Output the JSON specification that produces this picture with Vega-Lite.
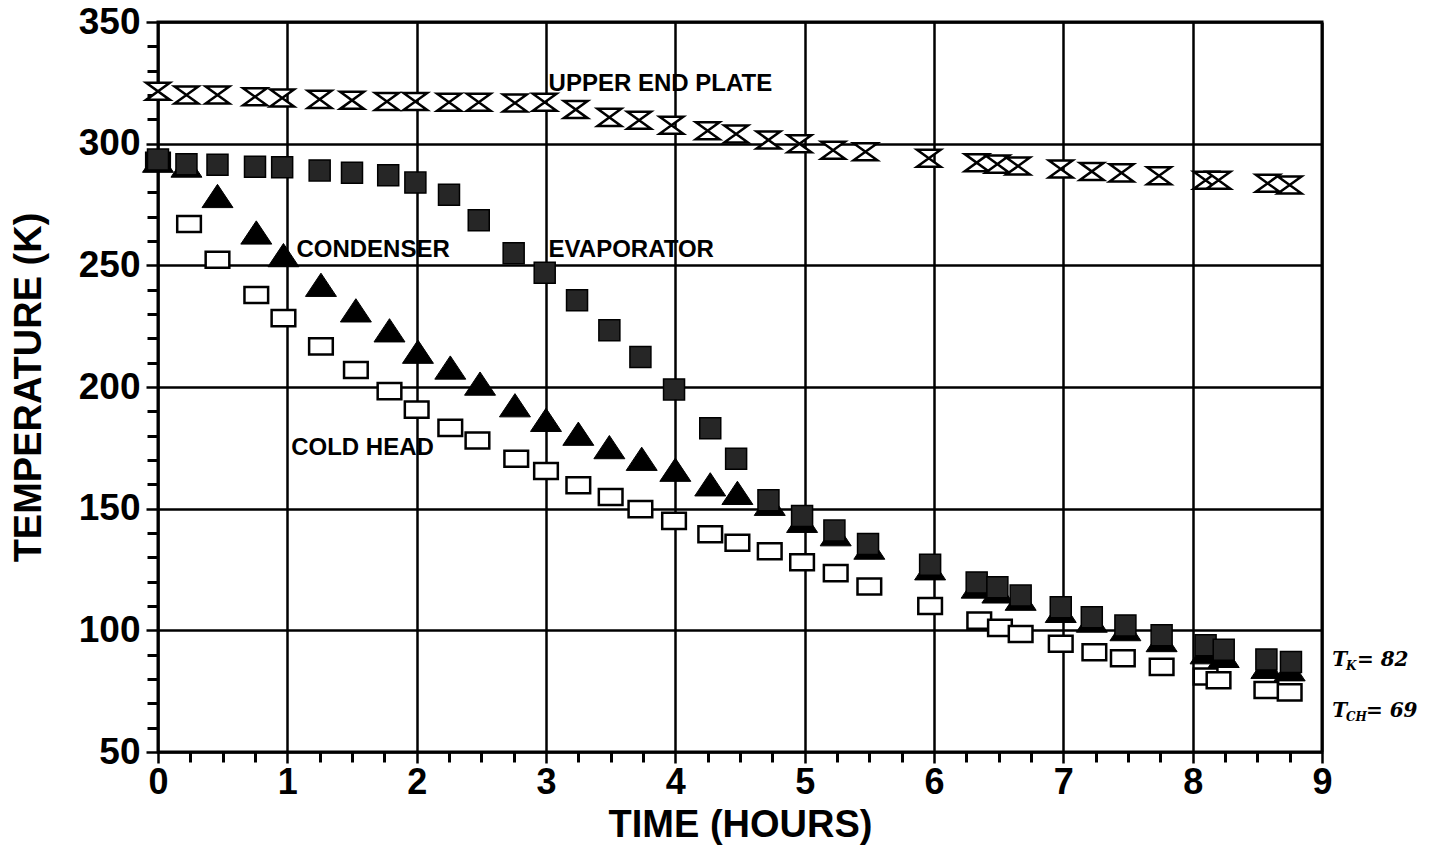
{
  "$schema": "https://vega.github.io/schema/vega-lite/v6.json",
  "width": 1164,
  "height": 730,
  "autosize": {"type": "none"},
  "padding": {"left": 158, "top": 22, "right": 109, "bottom": 98},
  "background": "white",
  "config": {
    "view": {"stroke": "black", "strokeWidth": 3},
    "font": "Liberation Sans"
  },
  "resolve": {"axis": {"x": "independent", "y": "independent"}},
  "datasets": {
    "pts": [
      {"series": "Upper end plate", "t": 0, "T": 321.5},
      {"series": "Upper end plate", "t": 0.22, "T": 320},
      {"series": "Upper end plate", "t": 0.46, "T": 320},
      {"series": "Upper end plate", "t": 0.75, "T": 319.3},
      {"series": "Upper end plate", "t": 0.96, "T": 318.8},
      {"series": "Upper end plate", "t": 1.25, "T": 318.2},
      {"series": "Upper end plate", "t": 1.5, "T": 317.8},
      {"series": "Upper end plate", "t": 1.77, "T": 317.3},
      {"series": "Upper end plate", "t": 1.99, "T": 317.3},
      {"series": "Upper end plate", "t": 2.25, "T": 317},
      {"series": "Upper end plate", "t": 2.48, "T": 317},
      {"series": "Upper end plate", "t": 2.76, "T": 316.7},
      {"series": "Upper end plate", "t": 2.99, "T": 317},
      {"series": "Upper end plate", "t": 3.23, "T": 314},
      {"series": "Upper end plate", "t": 3.49, "T": 310.8},
      {"series": "Upper end plate", "t": 3.72, "T": 309.6},
      {"series": "Upper end plate", "t": 3.97, "T": 307.6},
      {"series": "Upper end plate", "t": 4.25, "T": 305.3},
      {"series": "Upper end plate", "t": 4.47, "T": 304},
      {"series": "Upper end plate", "t": 4.72, "T": 301.5},
      {"series": "Upper end plate", "t": 4.96, "T": 300},
      {"series": "Upper end plate", "t": 5.22, "T": 297.3},
      {"series": "Upper end plate", "t": 5.47, "T": 296.7},
      {"series": "Upper end plate", "t": 5.96, "T": 294},
      {"series": "Upper end plate", "t": 6.33, "T": 292.2},
      {"series": "Upper end plate", "t": 6.49, "T": 291.6},
      {"series": "Upper end plate", "t": 6.65, "T": 290.8},
      {"series": "Upper end plate", "t": 6.98, "T": 289.6},
      {"series": "Upper end plate", "t": 7.22, "T": 288.6},
      {"series": "Upper end plate", "t": 7.45, "T": 288},
      {"series": "Upper end plate", "t": 7.74, "T": 286.8},
      {"series": "Upper end plate", "t": 8.1, "T": 285},
      {"series": "Upper end plate", "t": 8.2, "T": 285},
      {"series": "Upper end plate", "t": 8.58, "T": 283.7},
      {"series": "Upper end plate", "t": 8.75, "T": 283},

      {"series": "Cold head", "t": 0, "T": 293},
      {"series": "Cold head", "t": 0.24, "T": 267},
      {"series": "Cold head", "t": 0.46, "T": 252.3},
      {"series": "Cold head", "t": 0.76, "T": 237.8},
      {"series": "Cold head", "t": 0.97, "T": 228.3},
      {"series": "Cold head", "t": 1.26, "T": 216.7},
      {"series": "Cold head", "t": 1.53, "T": 207},
      {"series": "Cold head", "t": 1.79, "T": 198.3},
      {"series": "Cold head", "t": 2.0, "T": 190.7},
      {"series": "Cold head", "t": 2.26, "T": 183.2},
      {"series": "Cold head", "t": 2.47, "T": 178},
      {"series": "Cold head", "t": 2.77, "T": 170.5},
      {"series": "Cold head", "t": 3.0, "T": 165.5},
      {"series": "Cold head", "t": 3.25, "T": 159.6},
      {"series": "Cold head", "t": 3.5, "T": 154.8},
      {"series": "Cold head", "t": 3.73, "T": 149.8},
      {"series": "Cold head", "t": 3.99, "T": 145},
      {"series": "Cold head", "t": 4.27, "T": 139.5},
      {"series": "Cold head", "t": 4.48, "T": 136},
      {"series": "Cold head", "t": 4.73, "T": 132.5},
      {"series": "Cold head", "t": 4.98, "T": 128},
      {"series": "Cold head", "t": 5.24, "T": 123.5},
      {"series": "Cold head", "t": 5.5, "T": 118},
      {"series": "Cold head", "t": 5.97, "T": 110},
      {"series": "Cold head", "t": 6.35, "T": 104},
      {"series": "Cold head", "t": 6.51, "T": 101},
      {"series": "Cold head", "t": 6.67, "T": 98.5},
      {"series": "Cold head", "t": 6.98, "T": 94.5},
      {"series": "Cold head", "t": 7.24, "T": 91},
      {"series": "Cold head", "t": 7.46, "T": 88.5},
      {"series": "Cold head", "t": 7.76, "T": 85},
      {"series": "Cold head", "t": 8.1, "T": 81},
      {"series": "Cold head", "t": 8.2, "T": 79.5},
      {"series": "Cold head", "t": 8.57, "T": 75.5},
      {"series": "Cold head", "t": 8.75, "T": 74.5},

      {"series": "Condenser", "t": 0, "T": 293},
      {"series": "Condenser", "t": 0.22, "T": 291},
      {"series": "Condenser", "t": 0.46, "T": 278.5},
      {"series": "Condenser", "t": 0.76, "T": 263.5},
      {"series": "Condenser", "t": 0.97, "T": 254.2},
      {"series": "Condenser", "t": 1.26, "T": 242},
      {"series": "Condenser", "t": 1.53, "T": 231.5},
      {"series": "Condenser", "t": 1.79, "T": 223.3},
      {"series": "Condenser", "t": 2.01, "T": 214.5},
      {"series": "Condenser", "t": 2.26, "T": 208},
      {"series": "Condenser", "t": 2.49, "T": 201.4},
      {"series": "Condenser", "t": 2.76, "T": 192.5},
      {"series": "Condenser", "t": 3.0, "T": 186.5},
      {"series": "Condenser", "t": 3.25, "T": 180.8},
      {"series": "Condenser", "t": 3.49, "T": 175.3},
      {"series": "Condenser", "t": 3.74, "T": 170.5},
      {"series": "Condenser", "t": 4.0, "T": 166},
      {"series": "Condenser", "t": 4.27, "T": 160},
      {"series": "Condenser", "t": 4.48, "T": 156.5},
      {"series": "Condenser", "t": 4.73, "T": 152},
      {"series": "Condenser", "t": 4.98, "T": 145},
      {"series": "Condenser", "t": 5.24, "T": 139.5},
      {"series": "Condenser", "t": 5.5, "T": 134},
      {"series": "Condenser", "t": 5.97, "T": 125.5},
      {"series": "Condenser", "t": 6.33, "T": 118},
      {"series": "Condenser", "t": 6.49, "T": 116},
      {"series": "Condenser", "t": 6.67, "T": 113},
      {"series": "Condenser", "t": 6.98, "T": 108},
      {"series": "Condenser", "t": 7.22, "T": 104},
      {"series": "Condenser", "t": 7.48, "T": 100.5},
      {"series": "Condenser", "t": 7.76, "T": 96},
      {"series": "Condenser", "t": 8.1, "T": 91},
      {"series": "Condenser", "t": 8.24, "T": 89.5},
      {"series": "Condenser", "t": 8.57, "T": 85},
      {"series": "Condenser", "t": 8.75, "T": 84},

      {"series": "Evaporator", "t": 0, "T": 293.5},
      {"series": "Evaporator", "t": 0.22, "T": 291.5},
      {"series": "Evaporator", "t": 0.46, "T": 291.3},
      {"series": "Evaporator", "t": 0.75, "T": 290.5},
      {"series": "Evaporator", "t": 0.96, "T": 290.3},
      {"series": "Evaporator", "t": 1.25, "T": 289},
      {"series": "Evaporator", "t": 1.5, "T": 288},
      {"series": "Evaporator", "t": 1.78, "T": 287},
      {"series": "Evaporator", "t": 1.99, "T": 284},
      {"series": "Evaporator", "t": 2.25, "T": 279},
      {"series": "Evaporator", "t": 2.48, "T": 268.5},
      {"series": "Evaporator", "t": 2.75, "T": 255},
      {"series": "Evaporator", "t": 2.99, "T": 247},
      {"series": "Evaporator", "t": 3.24, "T": 235.6},
      {"series": "Evaporator", "t": 3.49, "T": 223.3},
      {"series": "Evaporator", "t": 3.73, "T": 212.3},
      {"series": "Evaporator", "t": 3.99, "T": 199},
      {"series": "Evaporator", "t": 4.27, "T": 183},
      {"series": "Evaporator", "t": 4.47, "T": 170.5},
      {"series": "Evaporator", "t": 4.72, "T": 153.5},
      {"series": "Evaporator", "t": 4.98, "T": 147},
      {"series": "Evaporator", "t": 5.23, "T": 141},
      {"series": "Evaporator", "t": 5.49, "T": 135.5},
      {"series": "Evaporator", "t": 5.97, "T": 127},
      {"series": "Evaporator", "t": 6.33, "T": 119.7},
      {"series": "Evaporator", "t": 6.49, "T": 117.7},
      {"series": "Evaporator", "t": 6.67, "T": 114.3},
      {"series": "Evaporator", "t": 6.98, "T": 109.5},
      {"series": "Evaporator", "t": 7.22, "T": 105.4},
      {"series": "Evaporator", "t": 7.48, "T": 102},
      {"series": "Evaporator", "t": 7.76, "T": 98},
      {"series": "Evaporator", "t": 8.1, "T": 93.9},
      {"series": "Evaporator", "t": 8.24, "T": 92},
      {"series": "Evaporator", "t": 8.57, "T": 88},
      {"series": "Evaporator", "t": 8.76, "T": 87}
    ],
    "labels": [
      {"t": 3.02, "T": 324.5, "label": "UPPER END PLATE"},
      {"t": 1.07, "T": 256.3, "label": "CONDENSER"},
      {"t": 3.02, "T": 256.3, "label": "EVAPORATOR"},
      {"t": 1.03, "T": 175, "label": "COLD HEAD"}
    ],
    "notes": [
      {"t": 9.08, "T": 88, "label": "T"},
      {"t": 9.27, "T": 88, "label": "= 82"},
      {"t": 9.08, "T": 67, "label": "T"},
      {"t": 9.34, "T": 67, "label": "= 69"}
    ],
    "subs": [
      {"t": 9.185, "T": 85.5, "label": "K"},
      {"t": 9.185, "T": 64.5, "label": "CH"}
    ]
  },
  "layer": [
    {
      "data": {"name": "pts"},
      "transform": [{"filter": "datum.series === 'Upper end plate'"}],
      "mark": {"type": "point", "shape": "M-1,-0.72L1,-0.72L-1,0.72L1,0.72Z", "size": 560, "filled": false, "fill": "white", "fillOpacity": 1, "stroke": "black", "strokeWidth": 2.5, "opacity": 1},
      "encoding": {
        "x": {
          "field": "t", "type": "quantitative",
          "scale": {"domain": [0, 9], "nice": false, "zero": false},
          "axis": {
            "orient": "bottom",
            "title": "TIME (HOURS)",
            "values": [0, 1, 2, 3, 4, 5, 6, 7, 8, 9],
            "format": "d",
            "labelOverlap": false,
            "labelFlush": false,
            "grid": true,
            "gridColor": "black",
            "gridWidth": 2.5,
            "domain": false,
            "tickColor": "black",
            "tickWidth": 2.5,
            "tickSize": 11,
            "labelFont": "Liberation Sans",
            "labelFontSize": 36,
            "labelFontWeight": "bold",
            "labelColor": "black",
            "labelPadding": 2,
            "titleFont": "Liberation Sans",
            "titleFontSize": 38,
            "titleFontWeight": "bold",
            "titleColor": "black",
            "titlePadding": 6
          }
        },
        "y": {
          "field": "T", "type": "quantitative",
          "scale": {"domain": [50, 350], "nice": false, "zero": false},
          "axis": {
            "orient": "left",
            "title": "TEMPERATURE (K)",
            "values": [50, 100, 150, 200, 250, 300, 350],
            "format": "d",
            "labelOverlap": false,
            "labelFlush": false,
            "grid": true,
            "gridColor": "black",
            "gridWidth": 2.5,
            "domain": false,
            "tickColor": "black",
            "tickWidth": 2.5,
            "tickSize": 12,
            "labelFont": "Liberation Sans",
            "labelFontSize": 37,
            "labelFontWeight": "bold",
            "labelColor": "black",
            "labelPadding": 6,
            "titleFont": "Liberation Sans",
            "titleFontSize": 38,
            "titleFontWeight": "bold",
            "titleColor": "black",
            "titlePadding": 30
          }
        }
      }
    },
    {
      "data": {"name": "pts"},
      "transform": [{"filter": "datum.series === 'Cold head'"}],
      "mark": {"type": "point", "shape": "M-1,-0.68L1,-0.68L1,0.68L-1,0.68Z", "size": 560, "filled": false, "fill": "white", "fillOpacity": 1, "stroke": "black", "strokeWidth": 2.5, "opacity": 1},
      "encoding": {
        "x": {
          "field": "t", "type": "quantitative",
          "axis": {
            "orient": "bottom",
            "title": null,
            "values": [0.25,0.5,0.75,1.25,1.5,1.75,2.25,2.5,2.75,3.25,3.5,3.75,4.25,4.5,4.75,5.25,5.5,5.75,6.25,6.5,6.75,7.25,7.5,7.75,8.25,8.5,8.75],
            "labels": false,
            "grid": false,
            "domain": false,
            "tickColor": "black",
            "tickWidth": 3,
            "tickSize": 10
          }
        },
        "y": {
          "field": "T", "type": "quantitative",
          "axis": {
            "orient": "left",
            "title": null,
            "values": [60,70,80,90,110,120,130,140,160,170,180,190,210,220,230,240,260,270,280,290,310,320,330,340],
            "labels": false,
            "grid": false,
            "domain": false,
            "tickColor": "black",
            "tickWidth": 3,
            "tickSize": 11
          }
        }
      }
    },
    {
      "data": {"name": "pts"},
      "transform": [{"filter": "datum.series === 'Condenser'"}],
      "mark": {"type": "point", "shape": "M0,-0.75L1,0.75L-1,0.75Z", "size": 960, "filled": true, "fill": "black", "stroke": "black", "strokeWidth": 1, "opacity": 1},
      "encoding": {
        "x": {"field": "t", "type": "quantitative", "axis": null},
        "y": {"field": "T", "type": "quantitative", "axis": null}
      }
    },
    {
      "data": {"name": "pts"},
      "transform": [{"filter": "datum.series === 'Evaporator'"}],
      "mark": {"type": "point", "shape": "square", "size": 441, "filled": true, "fill": "#262626", "stroke": "black", "strokeWidth": 1.5, "opacity": 1},
      "encoding": {
        "x": {"field": "t", "type": "quantitative", "axis": null},
        "y": {"field": "T", "type": "quantitative", "axis": null}
      }
    },
    {
      "data": {"name": "labels"},
      "mark": {"type": "text", "align": "left", "baseline": "middle", "font": "Liberation Sans", "fontSize": 24, "fontWeight": "bold", "color": "black"},
      "encoding": {
        "x": {"field": "t", "type": "quantitative", "axis": null},
        "y": {"field": "T", "type": "quantitative", "axis": null},
        "text": {"field": "label"}
      }
    },
    {
      "data": {"name": "notes"},
      "mark": {"type": "text", "align": "left", "baseline": "middle", "font": "DejaVu Serif", "fontStyle": "italic", "fontSize": 20, "fontWeight": "bold", "color": "black"},
      "encoding": {
        "x": {"field": "t", "type": "quantitative", "axis": null},
        "y": {"field": "T", "type": "quantitative", "axis": null},
        "text": {"field": "label"}
      }
    },
    {
      "data": {"name": "subs"},
      "mark": {"type": "text", "align": "left", "baseline": "middle", "font": "DejaVu Serif", "fontStyle": "italic", "fontSize": 12, "fontWeight": "bold", "color": "black"},
      "encoding": {
        "x": {"field": "t", "type": "quantitative", "axis": null},
        "y": {"field": "T", "type": "quantitative", "axis": null},
        "text": {"field": "label"}
      }
    }
  ]
}
